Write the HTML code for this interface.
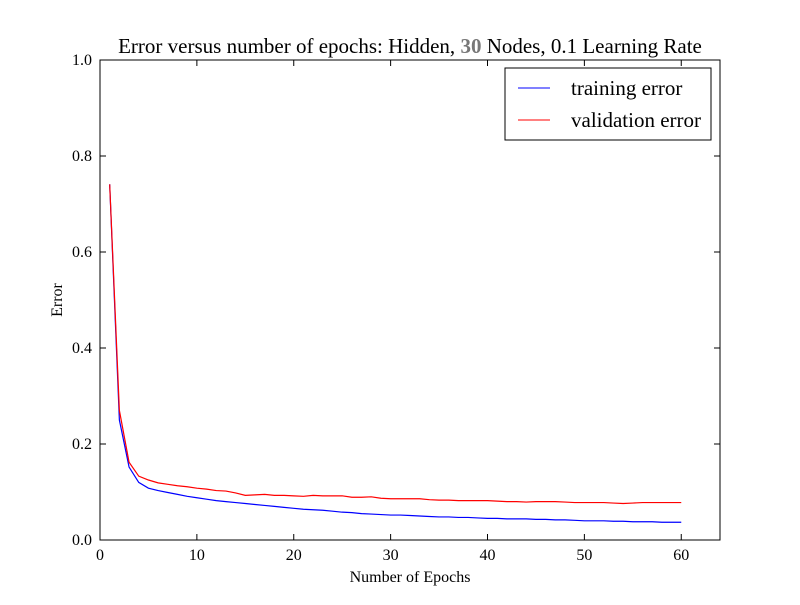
<!DOCTYPE html>
<html><head><meta charset="utf-8"><style>
body{margin:0;background:#fff}
svg text{font-family:"Liberation Serif",serif;fill:#000}
</style></head><body>
<svg id="chart" width="800" height="600" xmlns="http://www.w3.org/2000/svg">
<rect width="800" height="600" fill="#fff"/>
<text x="410" y="53" text-anchor="middle" font-size="21">Error versus number of epochs: Hidden, <tspan fill="#777" font-weight="bold">30</tspan> Nodes, 0.1 Learning Rate</text>
<g id="grid"></g>
<g id="lines"></g>
<rect x="100" y="60" width="620" height="480" fill="none" stroke="#000" stroke-width="1"/>
<text x="410" y="582" text-anchor="middle" font-size="16">Number of Epochs</text>
<text transform="translate(62,300) rotate(-90)" text-anchor="middle" font-size="16">Error</text>
<g>
<rect x="505" y="68" width="206" height="72" fill="#fff" stroke="#000"/>
<line x1="518" y1="88" x2="550" y2="88" stroke="#0000ff"/>
<text x="571" y="95" font-size="21">training error</text>
<line x1="518" y1="120" x2="550" y2="120" stroke="#ff0000"/>
<text x="571" y="127" font-size="21">validation error</text>
</g>
</svg>
<script>
const epochs = Array.from({length:60},(_, i)=>i+1);
const trainingError = [0.741,0.25,0.152,0.12,0.108,0.103,0.099,0.095,0.091,0.088,0.085,0.082,0.080,0.078,0.076,0.074,0.072,0.070,0.068,0.066,0.064,0.063,0.062,0.060,0.058,0.057,0.055,0.054,0.053,0.052,0.052,0.051,0.050,0.049,0.048,0.048,0.047,0.047,0.046,0.045,0.045,0.044,0.044,0.044,0.043,0.043,0.042,0.042,0.041,0.040,0.040,0.040,0.039,0.039,0.038,0.038,0.038,0.037,0.037,0.037];
const validationError = [0.741,0.27,0.162,0.133,0.125,0.119,0.116,0.113,0.111,0.108,0.106,0.103,0.102,0.098,0.093,0.094,0.095,0.093,0.093,0.092,0.091,0.093,0.092,0.092,0.092,0.089,0.089,0.090,0.087,0.086,0.086,0.086,0.086,0.084,0.083,0.083,0.082,0.082,0.082,0.082,0.081,0.080,0.080,0.079,0.080,0.080,0.080,0.079,0.078,0.078,0.078,0.078,0.077,0.076,0.077,0.078,0.078,0.078,0.078,0.078];
const xTicks = [0,10,20,30,40,50,60];
const yTicks = [0.0,0.2,0.4,0.6,0.8,1.0];
const NS="http://www.w3.org/2000/svg";
const X0=100,X1=720,Y0=540,Y1=60,XMAX=64;
const xs=v=>X0+(v/XMAX)*(X1-X0);
const ys=v=>Y0-v*(Y0-Y1);
const g=document.getElementById('grid'), L=document.getElementById('lines');
function mk(t,a,p){const e=document.createElementNS(NS,t);for(const k in a)e.setAttribute(k,a[k]);p.appendChild(e);return e;}
xTicks.forEach(v=>{
 const x=xs(v);
 const t1=mk('line',{x1:x,y1:Y0,x2:x,y2:Y0-6,stroke:'#000'},g);
 
 
 const t2=mk('line',{x1:x,y1:Y1,x2:x,y2:Y1+6,stroke:'#000'},g);
 
 
 const tx=mk('text',{x:x,y:Y0+20,'text-anchor':'middle','font-size':'16'},g);
 tx.textContent=v;
 
 
});
yTicks.forEach(v=>{
 const y=ys(v);
 const t1=mk('line',{x1:X0,y1:y,x2:X0+6,y2:y,stroke:'#000'},g);
 
 
 const t2=mk('line',{x1:X1,y1:y,x2:X1-6,y2:y,stroke:'#000'},g);
 
 
 const tx=mk('text',{x:X0-8,y:y+5,'text-anchor':'end','font-size':'16'},g);
 tx.textContent=v.toFixed(1);
 
 
});
function line(data,color,name){
 const pts=data.map((v,i)=>xs(epochs[i])+','+ys(v)).join(' ');
 const p=mk('polyline',{points:pts,fill:'none',stroke:color,'stroke-width':'1.2'},L);
 
 
}
line(trainingError,'#0000ff','training-error-line');
line(validationError,'#ff0000','validation-error-line');
</script>
</body></html>
